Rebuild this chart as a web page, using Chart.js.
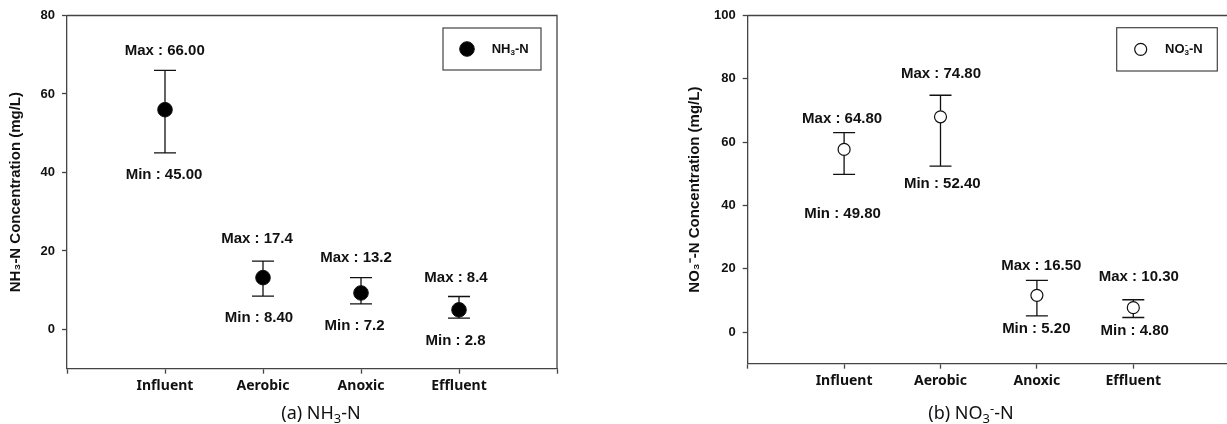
<!DOCTYPE html>
<html>
<head>
<meta charset="utf-8">
<script src="https://cdn.jsdelivr.net/npm/chart.js@4.4.1/dist/chart.umd.min.js"></script>
<style>
  html, body { margin:0; padding:0; background:#fff; }
  body { width:1227px; height:424px; overflow:hidden; position:relative; }
  .wrap { position:absolute; top:0; }
  .cap { position:absolute; top:400px; transform:translateX(-50%); font-family:'Noto Sans', sans-serif; font-size:18px; line-height:24px; white-space:nowrap; color:#111; }
  .cap sub { font-size:0.72em; vertical-align:-0.28em; line-height:0; }
  .cap sup { font-size:0.72em; vertical-align:0.5em; line-height:0; }
</style>
</head>
<body>
<div class="wrap" style="left:0;width:620px;height:424px"><canvas id="ca" width="620" height="424"></canvas></div>
<div class="wrap" style="left:640px;width:600px;height:424px"><canvas id="cb" width="600" height="424"></canvas></div>
<div class="cap" style="left:321px">(a) NH<sub>3</sub>-N</div>
<div class="cap" style="left:971px">(b) NO<sub>3</sub><sup>-</sup>-N</div>
<script>
// ---------------- DATA ----------------
const categories = ['Influent', 'Aerobic', 'Anoxic', 'Effluent'];
const catX = [1, 2, 3, 4];

// (a) NH3-N
const nh3Mean    = [56.0, 13.2, 9.3, 5.0];
const nh3ErrHigh = [66.0, 17.4, 13.2, 8.4];
const nh3ErrLow  = [45.0, 8.5, 6.5, 2.9];
const nh3MaxText = ['66.00', '17.4', '13.2', '8.4'];
const nh3MinText = ['45.00', '8.40', '7.2', '2.8'];
const nh3YTicks  = [0, 20, 40, 60, 80];

// (b) NO3--N
const no3Mean    = [57.7, 68.0, 11.6, 7.7];
const no3ErrHigh = [63.0, 74.8, 16.3, 10.2];
const no3ErrLow  = [49.8, 52.4, 5.1, 4.6];
const no3MaxText = ['64.80', '74.80', '16.50', '10.30'];
const no3MinText = ['49.80', '52.40', '5.20', '4.80'];
const no3YTicks  = [0, 20, 40, 60, 80, 100];

const xTicks = [0, 1, 2, 3, 4, 5];

// ---------------- LAYOUT (label offsets in px) ----------------
const nh3MaxOff = [[-0.3,-20],[-6,-22.6],[-5,-19.4],[-3,-18.4]];
const nh3MinOff = [[-1,22],[-4,21.7],[-6.5,22.4],[-3.5,22.4]];
const no3MaxOff = [[-2,-13.4],[0.5,-21],[4.4,-15],[5.5,-22.7]];
const no3MinOff = [[-1.6,39.7],[1.8,18],[-0.6,13.3],[1.4,13]];

const AXIS_COLOR = '#444';
const TEXT_COLOR = '#111';
const ARIAL = "'Liberation Sans', Arial, sans-serif";

function drawRich(ctx, parts, x, y, size, weight, family) {
  let cx = x, subStart = null, subW = 0;
  ctx.textAlign = 'left';
  ctx.textBaseline = 'middle';
  parts.forEach(p => {
    if (p.sub || p.sup) {
      const s = size * 0.62;
      ctx.font = `${weight} ${s}px ${family}`;
      const w = ctx.measureText(p.t).width;
      const dy = p.sub ? size * 0.3 : -size * 0.32;
      if (p.sup && subStart !== null) {
        ctx.fillText(p.t, subStart + 0.5, y + dy);
        cx = subStart + Math.max(subW, w);
        subStart = null;
      } else {
        ctx.fillText(p.t, cx, y + dy);
        if (p.sub) { subStart = cx; subW = w; }
        cx += w;
      }
    } else {
      ctx.font = `${weight} ${size}px ${family}`;
      ctx.fillText(p.t, cx, y);
      cx += ctx.measureText(p.t).width;
      subStart = null;
    }
  });
}

function makePlugin(errLow, errHigh, maxText, minText, maxOff, minOff, legend) {
  return {
    id: 'custom',
    beforeDatasetsDraw(chart) {
      const { ctx, scales: { x, y } } = chart;
      ctx.save();
      ctx.strokeStyle = '#111';
      ctx.lineWidth = 1.3;
      const cap = 11;
      catX.forEach((cv, i) => {
        const px = x.getPixelForValue(cv);
        const pl = y.getPixelForValue(errLow[i]);
        const ph = y.getPixelForValue(errHigh[i]);
        ctx.beginPath();
        ctx.moveTo(px, pl); ctx.lineTo(px, ph);
        ctx.moveTo(px - cap, pl); ctx.lineTo(px + cap, pl);
        ctx.moveTo(px - cap, ph); ctx.lineTo(px + cap, ph);
        ctx.stroke();
      });
      ctx.restore();
    },
    afterDatasetsDraw(chart) {
      const { ctx, scales: { x, y } } = chart;
      ctx.save();
      ctx.fillStyle = TEXT_COLOR;
      ctx.font = `bold 15px ${ARIAL}`;
      ctx.textAlign = 'center';
      ctx.textBaseline = 'middle';
      catX.forEach((cv, i) => {
        const px = x.getPixelForValue(cv);
        const ph = y.getPixelForValue(errHigh[i]);
        const pl = y.getPixelForValue(errLow[i]);
        ctx.fillText('Max : ' + maxText[i], px + maxOff[i][0], ph + maxOff[i][1]);
        ctx.fillText('Min : ' + minText[i], px + minOff[i][0], pl + minOff[i][1]);
      });
      ctx.restore();
    },
    afterDraw(chart) {
      const { ctx, chartArea: a } = chart;
      ctx.save();
      ctx.strokeStyle = AXIS_COLOR;
      ctx.lineWidth = 1.3;
      ctx.beginPath();
      ctx.moveTo(a.left, a.top); ctx.lineTo(a.right, a.top); ctx.lineTo(a.right, a.bottom);
      ctx.stroke();
      const ds = chart.data.datasets[0];
      const bx = a.right - legend.right - legend.w, by = a.top + legend.top;
      ctx.lineWidth = 1.2;
      ctx.strokeRect(bx, by, legend.w, legend.h);
      const my = by + legend.h / 2;
      ctx.beginPath();
      ctx.arc(bx + legend.markerX, my, ds.pointRadius, 0, Math.PI * 2);
      ctx.fillStyle = ds.backgroundColor;
      ctx.fill();
      ctx.strokeStyle = ds.borderColor;
      ctx.lineWidth = ds.borderWidth;
      ctx.stroke();
      ctx.fillStyle = TEXT_COLOR;
      drawRich(ctx, legend.parts, bx + legend.textX, my, 13, 'bold', ARIAL);
      ctx.restore();
    }
  };
}

function makeConfig(opts) {
  return {
    type: 'scatter',
    data: {
      datasets: [{
        label: opts.label,
        data: catX.map((cv, i) => ({ x: cv, y: opts.mean[i] })),
        pointRadius: opts.radius,
        pointHoverRadius: opts.radius,
        radius: opts.radius,
        backgroundColor: opts.fill,
        borderColor: '#111',
        borderWidth: opts.bw,
        pointBackgroundColor: opts.fill,
        pointBorderColor: '#111',
        pointBorderWidth: opts.bw
      }]
    },
    options: {
      responsive: false,
      animation: false,
      events: [],
      layout: { padding: opts.padding },
      plugins: { legend: { display: false }, tooltip: { enabled: false } },
      scales: {
        x: {
          type: 'linear', min: 0, max: 5,
          afterBuildTicks: s => { s.ticks = xTicks.map(v => ({ value: v })); },
          afterFit: s => { s.height = 30.3; },
          ticks: {
            autoSkip: false, maxRotation: 0, padding: 4,
            color: TEXT_COLOR,
            font: { family: "'Noto Sans', sans-serif", size: 14, weight: 'bold' },
            callback: v => (v >= 1 && v <= 4) ? categories[v - 1] : ''
          },
          grid: { drawOnChartArea: false, tickLength: 5, tickColor: AXIS_COLOR, tickWidth: 1.3 },
          border: { display: true, color: AXIS_COLOR, width: 1.3 }
        },
        y: {
          type: 'linear', min: -10, max: opts.ymax,
          afterBuildTicks: s => { s.ticks = opts.yticks.map(v => ({ value: v })); },
          afterFit: s => { s.width = opts.yWidth; },
          ticks: {
            padding: 7, color: TEXT_COLOR,
            font: { family: ARIAL, size: 13, weight: 'bold' }
          },
          grid: { drawOnChartArea: false, tickLength: 5, tickColor: AXIS_COLOR, tickWidth: 1.3 },
          border: { display: true, color: AXIS_COLOR, width: 1.3 },
          title: {
            display: true, text: opts.ytitle, color: TEXT_COLOR,
            font: { family: ARIAL, size: 15, weight: 'bold' },
            padding: { top: opts.titlePad, bottom: 0 }
          }
        }
      }
    },
    plugins: [opts.plugin]
  };
}

new Chart(document.getElementById('ca'), makeConfig({
  label: 'NH₃-N', mean: nh3Mean, radius: 7.3, fill: '#000', bw: 1,
  padding: { left: 0, top: 15.5, right: 63, bottom: 25 },
  ymax: 80, yticks: nh3YTicks, yWidth: 67, titlePad: 7,
  ytitle: 'NH₃-N Concentration (mg/L)',
  plugin: makePlugin(nh3ErrLow, nh3ErrHigh, nh3MaxText, nh3MinText, nh3MaxOff, nh3MinOff,
    { right: 16, top: 12.5, w: 98, h: 42, markerX: 24, textX: 48.7,
      parts: [{ t: 'NH' }, { t: '3', sub: true }, { t: '-N' }] })
}));

new Chart(document.getElementById('cb'), makeConfig({
  label: 'NO₃⁻-N', mean: no3Mean, radius: 6, fill: '#fff', bw: 1.2,
  padding: { left: 40, top: 15.5, right: 10.3, bottom: 30 },
  ymax: 100, yticks: no3YTicks, yWidth: 67.7, titlePad: 6,
  ytitle: 'NO₃⁻-N Concentration (mg/L)',
  plugin: makePlugin(no3ErrLow, no3ErrHigh, no3MaxText, no3MinText, no3MaxOff, no3MinOff,
    { right: 12.4, top: 12.2, w: 100.6, h: 43.3, markerX: 24, textX: 48.3,
      parts: [{ t: 'NO' }, { t: '3', sub: true }, { t: '-', sup: true }, { t: '-N' }] })
}));
</script>
</body>
</html>
